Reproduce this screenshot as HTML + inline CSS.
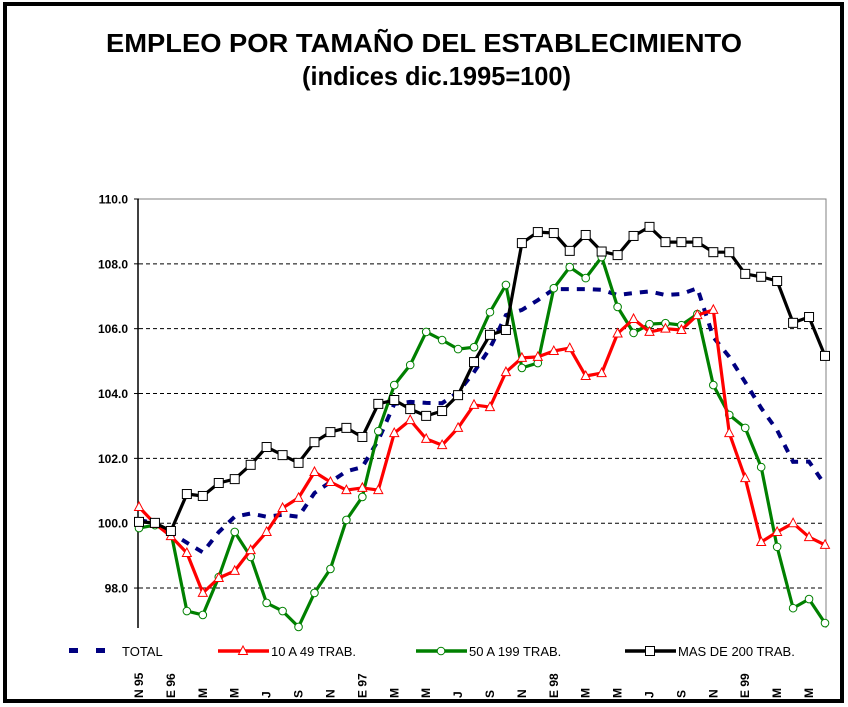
<!DOCTYPE html>
<html><head><meta charset="utf-8"><style>
html,body{margin:0;padding:0;background:#fff;}
svg{display:block;font-family:"Liberation Sans",Arial,sans-serif;}
</style></head><body>
<svg id="chart" width="848" height="707" viewBox="0 0 848 707" xmlns="http://www.w3.org/2000/svg">
<defs><clipPath id="lblclip"><rect x="0" y="667" width="848" height="40"/></clipPath></defs>
<rect x="5" y="4" width="837" height="697" fill="#fff" stroke="#000" stroke-width="4"/>
<text x="106" y="52" textLength="636" lengthAdjust="spacingAndGlyphs" font-size="26" font-weight="bold">EMPLEO POR TAMAÑO DEL ESTABLECIMIENTO</text>
<text x="302" y="85" textLength="269" lengthAdjust="spacingAndGlyphs" font-size="26" font-weight="bold">(indices dic.1995=100)</text>
<g id="grid"></g>
<g id="xlabels" clip-path="url(#lblclip)"></g>
<g id="series"></g>
<g id="legend"></g>
</svg>
<script>
const monthLabels = ["N 95","","E 96","","M","","M","","J","","S","","N","","E 97","","M","","M","","J","","S","","N","","E 98","","M","","M","","J","","S","","N","","E 99","","M","","M",""];
const yTicks = [110,108,106,104,102,100,98];
const yTickLabels = ["110.0","108.0","106.0","104.0","102.0","100.0","98.0"];
const totalValues = [100.1,100.0,99.7,99.4,99.1,99.73,100.2,100.3,100.2,100.26,100.2,100.93,101.27,101.6,101.73,102.56,103.68,103.74,103.71,103.7,104.04,104.66,105.4,106.42,106.58,106.88,107.22,107.22,107.22,107.2,107.04,107.1,107.15,107.04,107.07,107.25,105.74,105.13,104.35,103.55,102.87,101.89,101.9,101.18];
const smallValues = [100.5,99.98,99.6,99.08,97.85,98.31,98.53,99.17,99.73,100.47,100.78,101.58,101.27,101.02,101.09,101.02,102.78,103.18,102.6,102.41,102.94,103.65,103.58,104.66,105.1,105.13,105.31,105.4,104.54,104.63,105.85,106.3,105.9,106.0,105.96,106.42,106.58,102.78,101.39,99.42,99.73,100.0,99.57,99.33];
const mediumValues = [99.85,99.94,99.73,97.29,97.17,98.34,99.73,98.96,97.54,97.29,96.8,97.85,98.59,100.1,100.81,102.84,104.26,104.88,105.9,105.65,105.37,105.43,106.51,107.35,104.79,104.94,107.25,107.9,107.56,108.21,106.67,105.87,106.14,106.17,106.11,106.45,104.26,103.34,102.94,101.73,99.27,97.38,97.66,96.92];
const largeValues = [100.04,100.01,99.76,100.9,100.84,101.24,101.36,101.8,102.35,102.1,101.86,102.5,102.81,102.94,102.66,103.68,103.8,103.52,103.31,103.46,103.95,104.97,105.81,105.96,108.64,108.98,108.95,108.4,108.89,108.38,108.27,108.86,109.14,108.67,108.67,108.67,108.36,108.36,107.69,107.6,107.47,106.18,106.36,105.16];

const NS="http://www.w3.org/2000/svg";
const X0=139, X1=825, YTOP=199, YMAX=110, PXU=32.42, YBOT=628;
function xAt(i){return X0+(X1-X0)*i/(totalValues.length-1);}
function yAt(v){return YTOP+(YMAX-v)*PXU;}
function mk(tag,attrs,parent){const e=document.createElementNS(NS,tag);for(const k in attrs)e.setAttribute(k,attrs[k]);parent.appendChild(e);return e;}
const grid=document.getElementById('grid');
const xl=document.getElementById('xlabels');
const pb=mk('path',{d:`M${X0-1},${YTOP} H${X1+1} V${YBOT}`,fill:'none',stroke:'#808080','stroke-width':1},grid);


yTicks.forEach((t,k)=>{
  const y=yAt(t);
  if(k>0){const g=mk('line',{x1:X0,x2:X1,y1:y,y2:y,stroke:'#000','stroke-width':1,'stroke-dasharray':'4,3'},grid);
  
  }
  const tk=mk('line',{x1:X0-5,x2:X0,y1:y,y2:y,stroke:'#000'},grid);
  
  
  const tx=mk('text',{x:X0-11,y:y+4.5,'text-anchor':'end','font-size':12,'font-weight':'bold'},grid);
  tx.textContent=yTickLabels[k];
  
  
});
const ax=mk('line',{x1:X0-1,x2:X0-1,y1:YTOP,y2:YBOT,stroke:'#000','stroke-width':1.5},grid);


monthLabels.forEach((l,i)=>{
  if(!l)return;
  const x=xAt(i);
  const tx=mk('text',{x:0,y:0,'font-size':12,'font-weight':'bold','text-anchor':'start',transform:`translate(${x+4},698) rotate(-90)`},xl);
  tx.textContent=l;
  
  
});
const ser=document.getElementById('series');
function pts(arr){return arr.map((v,i)=>xAt(i).toFixed(1)+','+yAt(v).toFixed(1)).join(' ');}
function marker(type,x,y,color,parent){
  let e;
  if(type==='tri') e=mk('path',{d:`M${x},${y-5} L${x+4.5},${y+3.5} L${x-4.5},${y+3.5} Z`,fill:'#fff',stroke:color,'stroke-width':1},parent);
  else if(type==='circ') e=mk('circle',{cx:x,cy:y,r:3.8,fill:'#fff',stroke:color,'stroke-width':1},parent);
  else e=mk('rect',{x:x-4.5,y:y-4.5,width:9,height:9,fill:'#fff',stroke:color,'stroke-width':1},parent);
  return e;
}
function drawSeries(arr,color,type,name){
  const g=mk('g',{},ser);
  
  
  const pl=mk('polyline',{points:pts(arr),fill:'none',stroke:color,'stroke-width':3.2,'stroke-linejoin':'round'},g);
  
  
  arr.forEach((v,i)=>{
    const m=marker(type,xAt(i),yAt(v),color,g);
    
    
  });
}
const tl=mk('polyline',{points:pts(totalValues),fill:'none',stroke:'#000080','stroke-width':4,'stroke-dasharray':'8,8'},ser);


drawSeries(mediumValues,'#008000','circ','series-50-199');
drawSeries(smallValues,'#ff0000','tri','series-10-49');
drawSeries(largeValues,'#000000','sq','series-200-plus');
const lg=document.getElementById('legend');
const LY=651;
function legText(x,t,name){const e=mk('text',{x:x,y:LY+5,'font-size':13},lg);e.textContent=t;

}
const d1=mk('rect',{x:69,y:LY-3,width:9,height:5,fill:'#000080'},lg);


const d2=mk('rect',{x:96,y:LY-3,width:9,height:5,fill:'#000080'},lg);


legText(122,'TOTAL','legend-total');
[[218,'#ff0000','tri','10 A 49 TRAB.','legend-10-49'],[416,'#008000','circ','50 A 199 TRAB.','legend-50-199'],[625,'#000000','sq','MAS DE 200 TRAB.','legend-200-plus']].forEach(a=>{
  const l=mk('line',{x1:a[0],x2:a[0]+51,y1:LY,y2:LY,stroke:a[1],'stroke-width':3.5},lg);
  
  
  const m=marker(a[2],a[0]+25,LY,a[1],lg);
  
  
  legText(a[0]+53,a[3],a[4]);
});
</script>
</body></html>
